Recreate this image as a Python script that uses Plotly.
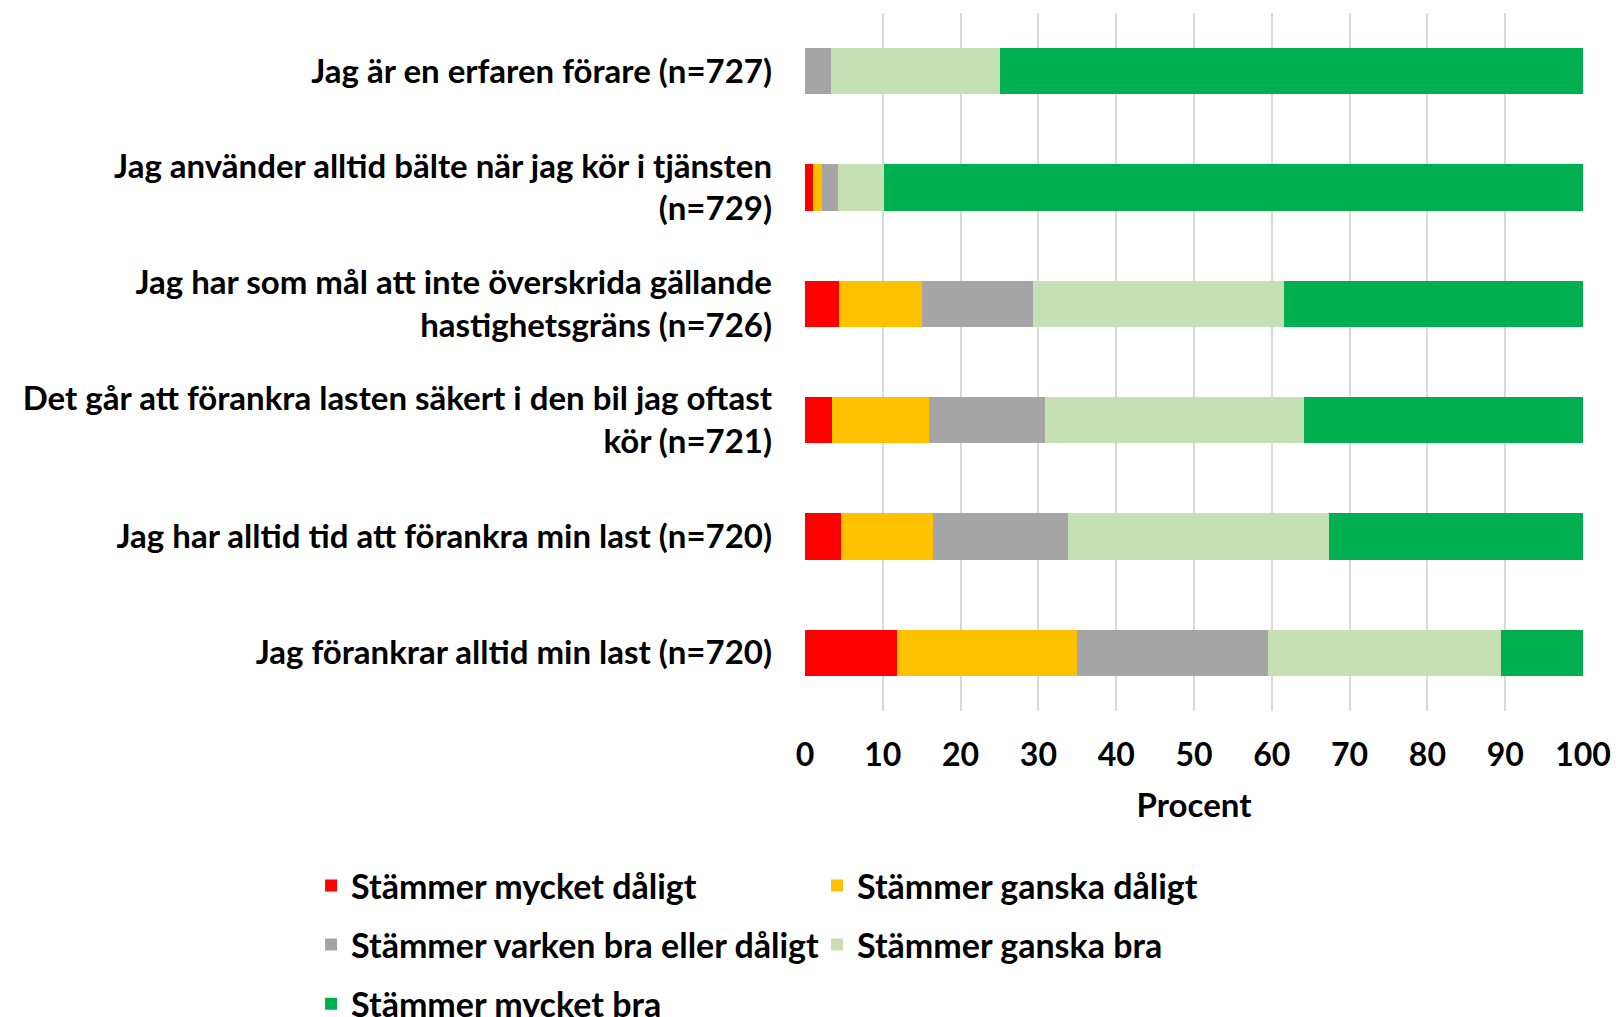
import plotly.graph_objects as go

categories = [
    "Jag är en erfaren förare (n=727)",
    "Jag använder alltid bälte när jag kör i tjänsten<br>(n=729)",
    "Jag har som mål att inte överskrida gällande<br>hastighetsgräns (n=726)",
    "Det går att förankra lasten säkert i den bil jag oftast<br>kör (n=721)",
    "Jag har alltid tid att förankra min last (n=720)",
    "Jag förankrar alltid min last (n=720)",
]

series_names = [
    "Stämmer mycket dåligt",
    "Stämmer ganska dåligt",
    "Stämmer varken bra eller dåligt",
    "Stämmer ganska bra",
    "Stämmer mycket bra",
]

mycket_daligt = [0.0, 1.0, 4.4, 3.5, 4.6, 11.8]
ganska_daligt = [0.0, 1.2, 10.7, 12.5, 11.8, 23.2]
varken = [3.4, 2.0, 14.2, 14.8, 17.4, 24.5]
ganska_bra = [21.6, 5.9, 32.3, 33.4, 33.6, 30.0]
mycket_bra = [75.0, 89.9, 38.4, 35.8, 32.6, 10.5]

x_ticks = [0, 10, 20, 30, 40, 50, 60, 70, 80, 90, 100]

colors = ["#FF0000", "#FFC000", "#A5A5A5", "#C5E0B4", "#00B050"]
legend_ids = ["legend", "legend2", "legend", "legend2", "legend"]

FONT = "Lato"

fig = go.Figure()
for i, (name, vals) in enumerate(zip(series_names,
                                     [mycket_daligt, ganska_daligt, varken, ganska_bra, mycket_bra])):
    fig.add_trace(go.Bar(
        y=categories, x=vals, name=name, orientation="h",
        marker=dict(color=colors[i], line=dict(width=0)),
        legend=legend_ids[i], legendgroup=f"g{i}",
    ))

legend_common = dict(
    orientation="v", xref="container", yref="container",
    yanchor="top", xanchor="left", y=0.1575,
    font=dict(family=FONT, size=34, color="#000000", weight="bold"),
    traceorder="grouped", tracegroupgap=12,
    bgcolor="rgba(0,0,0,0)", itemclick=False,
)

fig.update_layout(
    barmode="stack",
    bargap=0.6,
    width=1616, height=1017,
    margin=dict(l=805, r=33, t=13, b=306, autoexpand=False),
    paper_bgcolor="white", plot_bgcolor="white",
    font=dict(family=FONT, size=33, color="#000000"),
    legend=dict(x=0.1925, **legend_common),
    legend2=dict(x=0.5056, **legend_common),
    xaxis=dict(
        range=[0, 100], tickvals=x_ticks, ticktext=[str(v) for v in x_ticks],
        showgrid=True, gridcolor="#D9D9D9", gridwidth=2,
        zeroline=False, showline=False,
        tickfont=dict(family=FONT, size=32, color="#000000", weight="bold"),
        ticklabelstandoff=22, ticklabeloverflow="allow",
        title=dict(text="<b>Procent</b>", font=dict(family=FONT, size=33), standoff=21),
        fixedrange=True, automargin=False,
    ),
    yaxis=dict(
        autorange="reversed", showgrid=False, zeroline=False, showline=False,
        tickfont=dict(family=FONT, size=33, color="#000000", weight="bold"),
        ticklabelstandoff=32,
        fixedrange=True, automargin=False,
    ),
)

fig.write_html("out.html", config={"displayModeBar": False},
               post_script="document.body.style.margin='0';")
